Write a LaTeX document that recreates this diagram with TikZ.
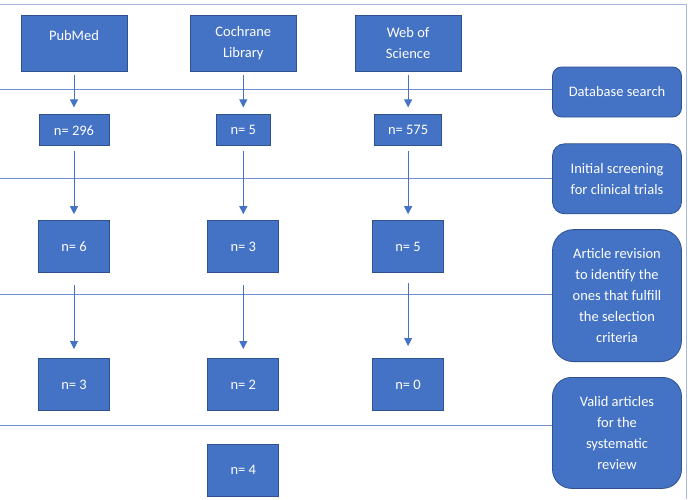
\documentclass[tikz,border=0pt]{standalone}
\usepackage{fontspec}
\setmainfont{Carlito}
\usepackage{tikz}
\usetikzlibrary{
  arrows.meta,
  positioning
}
\definecolor{OBlue}{HTML}{4472C4}
\definecolor{OEdge}{HTML}{2F528F}
\definecolor{OLine}{HTML}{6F8FD0}
\definecolor{OFrame}{HTML}{A4B8E0}
\tikzset{
  % Plain flow box (database / count)
  box/.style={
    rectangle, draw=OEdge, fill=OBlue, line width=0.8pt,
    text=white, align=center, inner sep=0pt,
    font=\fontsize{14.5}{21}\selectfont
  },
  % Database box
  db/.style={box, minimum width=106pt, minimum height=56pt},
  % Count after search
  cnt/.style={box, minimum width=#1, minimum height=31pt},
  % Count after a screening step
  res/.style={box, minimum width=71pt, minimum height=52pt},
  % Stage label on the right
  stage/.style={
    rectangle, rounded corners=#1,
    draw=OEdge, fill=OBlue, line width=0.8pt,
    text=white, align=center, inner sep=0pt,
    minimum width=129pt,
    font=\fontsize{14.5}{21}\selectfont
  },
  % Arrow
  arr/.style={
    -{Triangle[length=8pt,width=8pt]},
    line width=0.8pt, color=OBlue
  },
  % Stage divider
  sep/.style={line width=0.7pt, color=OLine},
  % Outer frame
  frm/.style={line width=0.8pt, color=OFrame}
}

\begin{document}
\begin{tikzpicture}[x=1pt, y=-1pt]

  \useasboundingbox (0,0) rectangle (690,499);

  % ---- ROW 1: databases ----
  \node[db, text depth=16pt] (pub) at (74,43) {PubMed};
  \node[db, right=62.5pt of pub] (coch) {Cochrane\\Library};
  \node[db, right=58pt of coch]  (wos)  {Web of\\Science};

  % ---- ROW 2: search hits ----
  \node[cnt=70pt, below=43pt of pub]  (pubA)  {n= 296};
  \node[cnt=54pt, below=43pt of coch] (cochA) {n= 5};
  \node[cnt=67pt, below=43pt of wos]  (wosA)  {n= 575};

  % ---- ROW 3: clinical trials ----
  \node[res, below=74pt of pubA]  (pubB)  {n= 6};
  \node[res, below=74pt of cochA] (cochB) {n= 3};
  \node[res, below=74pt of wosA]  (wosB)  {n= 5};

  % ---- ROW 4: selection criteria ----
  \node[res, below=85pt of pubB]  (pubC)  {n= 3};
  \node[res, below=85pt of cochB] (cochC) {n= 2};
  \node[res, below=85pt of wosB]  (wosC)  {n= 0};

  % ---- ROW 5: total ----
  \node[res, below=33pt of cochC] (total) {n= 4};

  % ---- STAGES (right column) ----
  \node[stage=9pt, minimum height=50pt] (srch) at (617,92) {Database search};
  \node[stage=12pt, minimum height=70pt, below=26pt of srch] (scrn)
    {Initial screening\\for clinical trials};
  \node[stage=21pt, minimum height=132pt, below=15pt of scrn] (revi)
    {Article revision\\to identify the\\ones that fulfill\\the selection\\criteria};
  \node[stage=19pt, minimum height=111pt, below=15pt of revi] (vald)
    {Valid articles\\for the\\systematic\\review};

  % ---- DIVIDERS ----
  \coordinate (d1) at (0,89);
  \coordinate (d2) at (0,178);
  \coordinate (d3) at (0,294);
  \coordinate (d4) at (0,425);
  \draw[sep] (d1) -- (d1 -| srch.west);
  \draw[sep] (d2) -- (d2 -| scrn.west);
  \draw[sep] (d3) -- (d3 -| revi.west);
  \draw[sep] (d4) -- (d4 -| vald.west);

  % ---- FRAME ----
  \draw[frm] (0,4) -- (686,4) -- (686,499);

  % ---- ARROWS ----
  \draw[arr, shorten <=4pt, shorten >=7pt]  (pub)   -- (pubA);
  \draw[arr, shorten <=4pt, shorten >=7pt]  (coch)  -- (cochA);
  \draw[arr, shorten <=4pt, shorten >=7pt]  (wos)   -- (wosA);
  \draw[arr, shorten <=5pt, shorten >=6pt]  (pubA)  -- (pubB);
  \draw[arr, shorten <=5pt, shorten >=6pt]  (cochA) -- (cochB);
  \draw[arr, shorten <=5pt, shorten >=6pt]  (wosA)  -- (wosB);
  \draw[arr, shorten <=12pt, shorten >=9pt] (pubB)  -- (pubC);
  \draw[arr, shorten <=12pt, shorten >=9pt] (cochB) -- (cochC);
  \draw[arr, shorten <=10pt, shorten >=12pt] (wosB) -- (wosC);

\end{tikzpicture}
\end{document}
